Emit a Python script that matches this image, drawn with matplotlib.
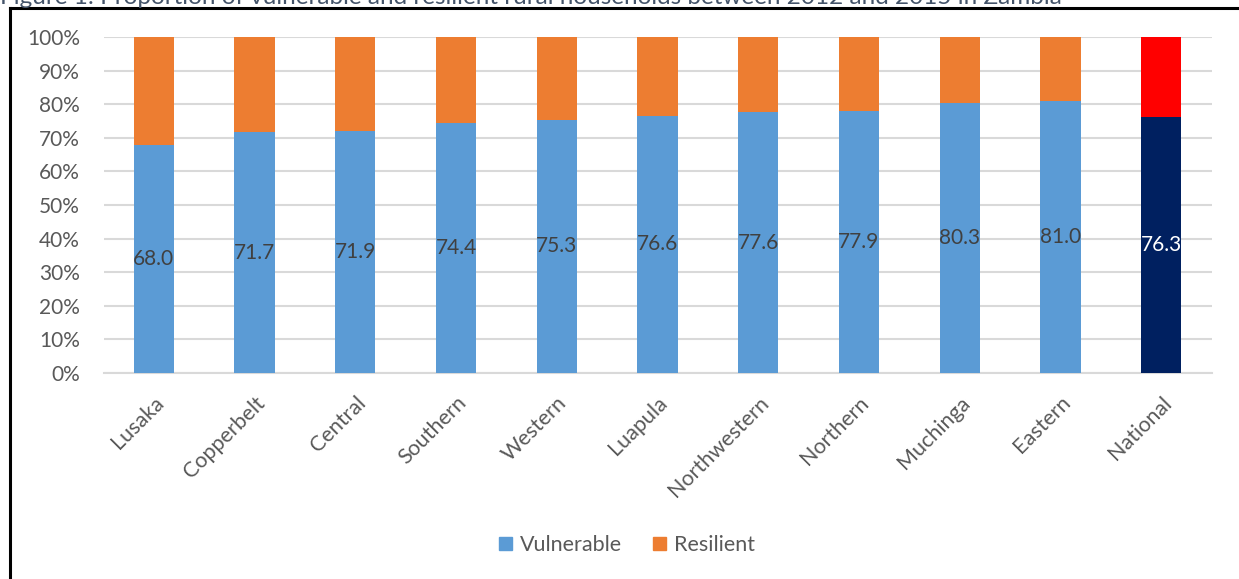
import matplotlib.pyplot as plt
from matplotlib.patches import Patch
from matplotlib.lines import Line2D

# Share of rural households by province, 2012-2015
provinces = ["Lusaka", "Copperbelt", "Central", "Southern", "Western", "Luapula",
             "Northwestern", "Northern", "Muchinga", "Eastern", "National"]
vulnerable = [68.0, 71.7, 71.9, 74.4, 75.3, 76.6, 77.6, 77.9, 80.3, 81.0, 76.3]
resilient = [100 - v for v in vulnerable]
y_ticks = [0, 10, 20, 30, 40, 50, 60, 70, 80, 90, 100]
y_tick_labels = [f"{t}%" for t in y_ticks]
title = "Figure 1: Proportion of vulnerable and resilient rural households between 2012 and 2015 in Zambia"

plt.rcParams["font.family"] = ["Lato", "DejaVu Sans"]
TEXT = "#595959"
BLUE = "#5B9BD5"
ORANGE = "#ED7D31"
NAVY = "#002060"
RED = "#FF0000"

W, H = 1239, 579
fig = plt.figure(figsize=(W / 100, H / 100), dpi=100)
ax = fig.add_axes([103.5 / W, 1 - 373 / H, (1211.5 - 103.5) / W, (373 - 37) / H])

x = list(range(len(provinces)))
vul_colors = [BLUE] * (len(provinces) - 1) + [NAVY]
res_colors = [ORANGE] * (len(provinces) - 1) + [RED]
ax.bar(x, vulnerable, width=0.4, color=vul_colors, zorder=3)
ax.bar(x, resilient, width=0.4, bottom=vulnerable, color=res_colors, zorder=3)

for i, v in enumerate(vulnerable):
    col = "white" if i == len(provinces) - 1 else "#404040"
    ax.text(i, v / 2, f"{v:.1f}", ha="center", va="center", fontsize=15,
            color=col, zorder=4)

ax.set_xlim(-0.5, len(provinces) - 0.5)
ax.set_ylim(0, 100)
ax.set_yticks(y_ticks)
ax.set_yticklabels(y_tick_labels)
ax.yaxis.grid(True, color="#D9D9D9", linewidth=1.5, zorder=0)
ax.set_axisbelow(True)
for s in ["top", "right", "left"]:
    ax.spines[s].set_visible(False)
ax.spines["bottom"].set_color("#D9D9D9")
ax.spines["bottom"].set_linewidth(1.5)
ax.tick_params(axis="y", length=0, pad=17, labelsize=15, labelcolor=TEXT)
ax.tick_params(axis="x", length=0, pad=14, labelsize=15.5, labelcolor=TEXT)
ax.set_xticks(x)
ax.set_xticklabels(provinces, rotation=45, ha="right", rotation_mode="anchor")

handles = [Patch(color=BLUE, label="Vulnerable"), Patch(color=ORANGE, label="Resilient")]
fig.legend(handles=handles, loc="center", bbox_to_anchor=(627 / W, 1 - 545 / H),
           ncol=2, frameon=False, fontsize=15.5, handlelength=0.6, handleheight=0.6,
           handletextpad=0.4, columnspacing=1.4, labelcolor=TEXT)

# Frame lines and the clipped caption above
fig.add_artist(Line2D([10 / W, 10 / W], [0, 1 - 7.5 / H], color="black", lw=2.2,
                      transform=fig.transFigure))
fig.add_artist(Line2D([10 / W, 1], [1 - 7.5 / H, 1 - 7.5 / H], color="black", lw=2.2,
                      transform=fig.transFigure))
fig.text(0 / W, 1 - 4 / H, title, ha="left", va="baseline", fontsize=17.5, color="#44546A")

fig.savefig("out.png", dpi=100)
